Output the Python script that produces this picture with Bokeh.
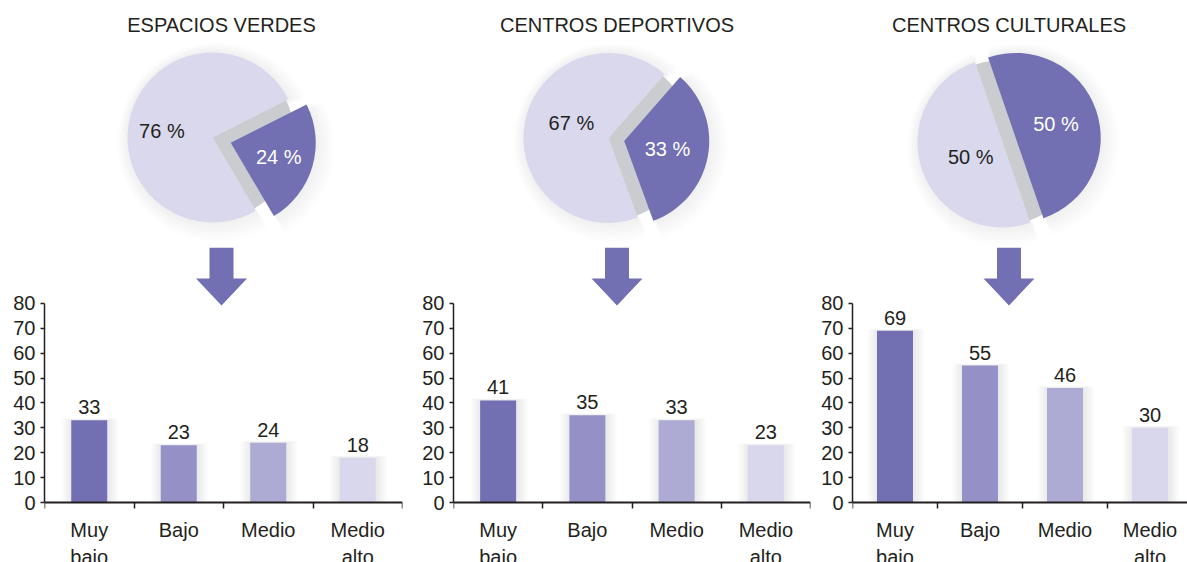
import math
import numpy as np
from bokeh.plotting import figure
from bokeh.models import (Range1d, FixedTicker, LinearAxis, LabelSet,
                          ColumnDataSource, CustomJSTickFormatter)
from bokeh.layouts import column, row
from bokeh.embed import file_html
from bokeh.resources import INLINE
from bokeh.core.properties import value

# ---------------- data ----------------
titles = ["ESPACIOS VERDES", "CENTROS DEPORTIVOS", "CENTROS CULTURALES"]
pie_light = [76, 67, 50]
pie_dark = [24, 33, 50]
categories = ["Muy\nbajo", "Bajo", "Medio", "Medio\nalto"]
bars_verdes = [33, 23, 24, 18]
bars_deportivos = [41, 35, 33, 23]
bars_culturales = [69, 55, 46, 30]
y_ticks = [0, 10, 20, 30, 40, 50, 60, 70, 80]

# ---------------- styles ----------------
FONT = "Liberation Sans"
TXT = "#231f20"
DARK = "#726fb3"
LIGHT = "#d9d8ed"
GAP = "#cbccd0"
bar_colors = ["#726fb3", "#9590c6", "#adaad3", "#d9d7ec"]

# ---------------- layout constants (page pixels) ----------------
W, H = 1187, 562
TOP_H = 247
panel_cx = [221, 616.5, 1008.5]
pie_cx = [212, 608, 1002]
pie_cy = [-137, -137.5, -142]
R = 85
dark_start = [-59.5, -70, -71]
explode = [19, 16, 14]
light_lab = [(51, 173), (40, 158), (35, 205)]
dark_lab_r = [50, 44, 42.5]

# ---------------- top figure: titles + pies ----------------
top = figure(width=W, height=TOP_H, x_range=Range1d(0, W), y_range=Range1d(-TOP_H, 0),
             output_backend="svg", toolbar_location=None, min_border=0,
             x_axis_location=None, y_axis_location=None, outline_line_color=None)
top.grid.visible = False

top.text(x=panel_cx, y=[-24.5] * 3, text=titles, text_font=value(FONT),
         text_font_size="20px", text_align="center", text_baseline="middle",
         text_color=TXT)

for i in range(3):
    cx, cy = pie_cx[i], pie_cy[i]
    a0 = math.radians(dark_start[i])
    a1 = a0 + 2 * math.pi * pie_dark[i] / 100.0
    mid = (a0 + a1) / 2
    ex = cx + explode[i] * math.cos(mid)
    ey = cy + explode[i] * math.sin(mid)
    # soft halo
    for k in range(1, 8):
        top.wedge(x=[cx + 0.6 * k], y=[cy - 0.6 * k], radius=R + 2 * k, start_angle=a1,
                  end_angle=a0 + 2 * math.pi,
                  fill_color="#666666", fill_alpha=0.016, line_color=None)
        top.wedge(x=[ex + 0.6 * k], y=[ey - 0.6 * k], radius=R + 2 * k, start_angle=a0,
                  end_angle=a1, fill_color="#666666", fill_alpha=0.016, line_color=None)
    top.wedge(x=[cx], y=[cy], radius=R, start_angle=a1, end_angle=a0 + 2 * math.pi,
              fill_color=LIGHT, line_color=None)
    top.wedge(x=[cx], y=[cy], radius=R * 0.97, start_angle=a0, end_angle=a1,
              fill_color=GAP, line_color=None)
    top.wedge(x=[ex], y=[ey], radius=R, start_angle=a0, end_angle=a1,
              fill_color=DARK, line_color=None)
    lr, la = light_lab[i]
    top.text(x=[cx + lr * math.cos(math.radians(la))], y=[cy + lr * math.sin(math.radians(la))],
             text=[f"{pie_light[i]} %"], text_font=value(FONT), text_font_size="20px",
             text_align="center", text_baseline="middle", text_color=TXT)
    top.text(x=[ex + dark_lab_r[i] * math.cos(mid)], y=[ey + dark_lab_r[i] * math.sin(mid)],
             text=[f"{pie_dark[i]} %"], text_font=value(FONT), text_font_size="20px",
             text_align="center", text_baseline="middle", text_color="white")

# ---------------- bar figures ----------------
PPY = 2.49
Y_AXIS_PAGE = 502
BAR_H = H - TOP_H


def bar_panel(vals, width, bl, br, frame_left, arrow_cx, cat_px):
    frame_w = width - bl - br
    x_end = frame_w / cat_px
    ppx = cat_px
    p = figure(width=width, height=BAR_H, x_range=Range1d(0, x_end),
               y_range=Range1d(-(H - Y_AXIS_PAGE) / PPY, (Y_AXIS_PAGE - TOP_H) / PPY),
               output_backend="svg", toolbar_location=None,
               min_border_left=bl, min_border_right=br, min_border_top=0, min_border_bottom=0,
               x_axis_location=None, y_axis_location=None, outline_line_color=None)
    p.grid.visible = False

    xs = np.arange(len(categories)) + 0.5
    v = np.array(vals, dtype=float)

    # soft shadows (mostly to the sides)
    for k in range(1, 8):
        p.vbar(x=xs + 0.8 / ppx, top=v + k * 0.12, bottom=0, width=(36 + 3.0 * k) / ppx,
               fill_color="#555555", fill_alpha=0.018, line_color=None)
    p.vbar(x=xs, top=v, bottom=0, width=36 / ppx, fill_color=bar_colors, line_color=None)

    # arrow
    ax = [arrow_cx - 12, arrow_cx + 12, arrow_cx + 12, arrow_cx + 25.5, arrow_cx,
          arrow_cx - 25.5, arrow_cx - 12]
    ay = [247, 247, 278, 278, 305, 278, 278]
    p.patch(x=[(a - frame_left) / ppx for a in ax], y=[(Y_AXIS_PAGE - b) / PPY for b in ay],
            fill_color=DARK, line_color=None)

    yax = LinearAxis(ticker=FixedTicker(ticks=y_ticks), bounds=(0, 80),
                     axis_line_color=TXT, axis_line_width=1.5,
                     major_tick_line_color=TXT, major_tick_line_width=1.5,
                     major_tick_out=4, major_tick_in=0, minor_tick_line_color=None,
                     major_label_standoff=5, major_label_text_font=FONT,
                     major_label_text_font_size="20px", major_label_text_color=TXT)
    p.add_layout(yax, "left")

    xax = LinearAxis(ticker=FixedTicker(ticks=list(xs),
                                        minor_ticks=list(range(len(categories) + 1))),
                     formatter=CustomJSTickFormatter(args=dict(labels=categories),
                                                     code="return labels[Math.floor(tick)] || ''"),
                     fixed_location=0,
                     axis_line_color=TXT, axis_line_width=2,
                     major_tick_line_color=None, major_tick_out=0, major_tick_in=0,
                     minor_tick_line_color=TXT, minor_tick_line_width=1.5,
                     minor_tick_out=6, minor_tick_in=0,
                     major_label_standoff=10, major_label_text_font=FONT,
                     major_label_text_font_size="20px", major_label_text_color=TXT,
                     major_label_text_line_height=1.25)
    p.add_layout(xax, "below")

    src = ColumnDataSource(dict(x=xs, top=v, lab=[str(a) for a in vals]))
    p.add_layout(LabelSet(x="x", y="top", text="lab", source=src, text_align="center",
                          text_baseline="alphabetic", y_offset=6, text_font=value(FONT),
                          text_font_size="20px", text_color=TXT))
    return p


f1 = bar_panel(bars_verdes, 412, 44, 10, 44, panel_cx[0], 89.5)
f2 = bar_panel(bars_deportivos, 402, 41, 4, 453, panel_cx[1], 89.25)
f3 = bar_panel(bars_culturales, 373, 38, 0, 852, panel_cx[2], 85.0)

layout = column(top, row(f1, f2, f3))
open("out.html", "w").write(file_html(layout, INLINE))
